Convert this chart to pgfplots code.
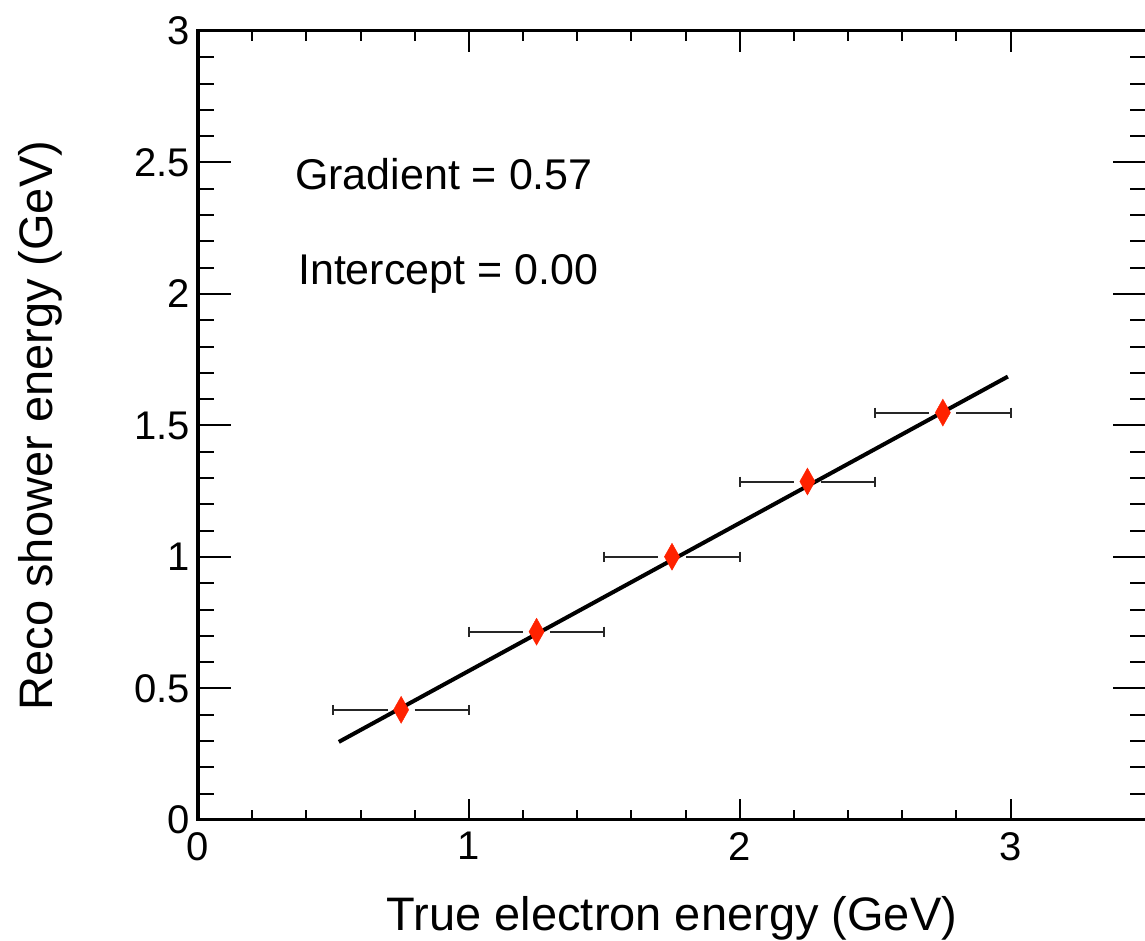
\documentclass[border=0pt]{standalone}
\usepackage{pgfplots}
\pgfplotsset{compat=1.18}
\usepackage{pgfplotstable}
\usepackage{fontspec}
\setmainfont{Liberation Sans}
\definecolor{rootred}{RGB}{255,34,0}
\pgfplotstableread{
x y
0.75 0.419
1.25 0.716
1.75 1.001
2.25 1.287
2.75 1.549
}\datatab
\begin{document}
\begin{tikzpicture}
\pgfplotsset{
  common/.style={
    scale only axis, width=948pt, height=789pt,
    at={(0pt,0pt)}, anchor=south west,
    xmin=0, xmax=3.5, ymin=0, ymax=3,
    xtick={0,1,2,3}, ytick={0,0.5,1,1.5,2,2.5,3},
    minor x tick num=4, minor y tick num=4,
    tick align=inside, xtick pos=both, ytick pos=both,
    xticklabel pos=left, yticklabel pos=left,
    axis line style={line width=3pt},
    every tick/.style={black, line width=2pt},
    every minor tick/.style={black, line width=2pt},
    clip=false,
  }
}
\begin{axis}[common,
    major tick length=21pt, minor tick length=10pt,
    /pgf/number format/assume math mode=true,
    tick label style={font=\fontsize{40}{48}\selectfont, inner sep=0pt},
    yticklabel style={anchor=east, xshift=-8pt},
    xticklabel style={anchor=north, yshift=-12pt},
    xlabel={True electron energy (GeV)},
    ylabel={Reco shower energy (GeV)},
    label style={font=\fontsize{47}{56}\selectfont, inner sep=0pt},
    xlabel style={at={(axis description cs:0.5,0)}, anchor=base, yshift=-110pt},
    ylabel style={at={(axis description cs:0,0.5)}, anchor=base, yshift=145pt},
]
% horizontal error bars (with a gap round each marker)
\addplot[black!85, line width=2pt, unbounded coords=jump] coordinates {
(0.50,0.419) (0.70,0.419) (nan,nan) (0.80,0.419) (1.00,0.419) (nan,nan)
(1.00,0.716) (1.20,0.716) (nan,nan) (1.30,0.716) (1.50,0.716) (nan,nan)
(1.50,1.001) (1.70,1.001) (nan,nan) (1.80,1.001) (2.00,1.001) (nan,nan)
(2.00,1.287) (2.20,1.287) (nan,nan) (2.30,1.287) (2.50,1.287) (nan,nan)
(2.50,1.549) (2.70,1.549) (nan,nan) (2.80,1.549) (3.00,1.549)
};
\addplot[only marks, mark=|, mark size=5pt, black!85, mark options={line width=2pt}] coordinates {
(0.50,0.419) (1.00,0.419) (1.00,0.716) (1.50,0.716) (1.50,1.001) (2.00,1.001)
(2.00,1.287) (2.50,1.287) (2.50,1.549) (3.00,1.549)
};
\addplot[black, line width=4pt] coordinates {(0.52,0.297) (2.99,1.686)};
\addplot[only marks, mark=diamond*, mark size=13.5pt,
  mark options={xscale=0.75, fill=rootred, draw=rootred}] table[x=x, y=y] {\datatab};
\node[anchor=base west, inner sep=0pt, font=\fontsize{43}{52}\selectfont] at (axis cs:0.358,2.398) {Gradient = 0.57};
\node[anchor=base west, inner sep=0pt, font=\fontsize{43}{52}\selectfont] at (axis cs:0.369,2.037) {Intercept = 0.00};
\end{axis}
\begin{axis}[common,
    major tick length=33pt, minor tick length=16pt,
    xtick=\empty, yticklabels={},
]
\end{axis}
\pgfresetboundingbox
\path[use as bounding box] (-198pt,-121pt) rectangle (947pt,820pt);
\end{tikzpicture}
\end{document}
